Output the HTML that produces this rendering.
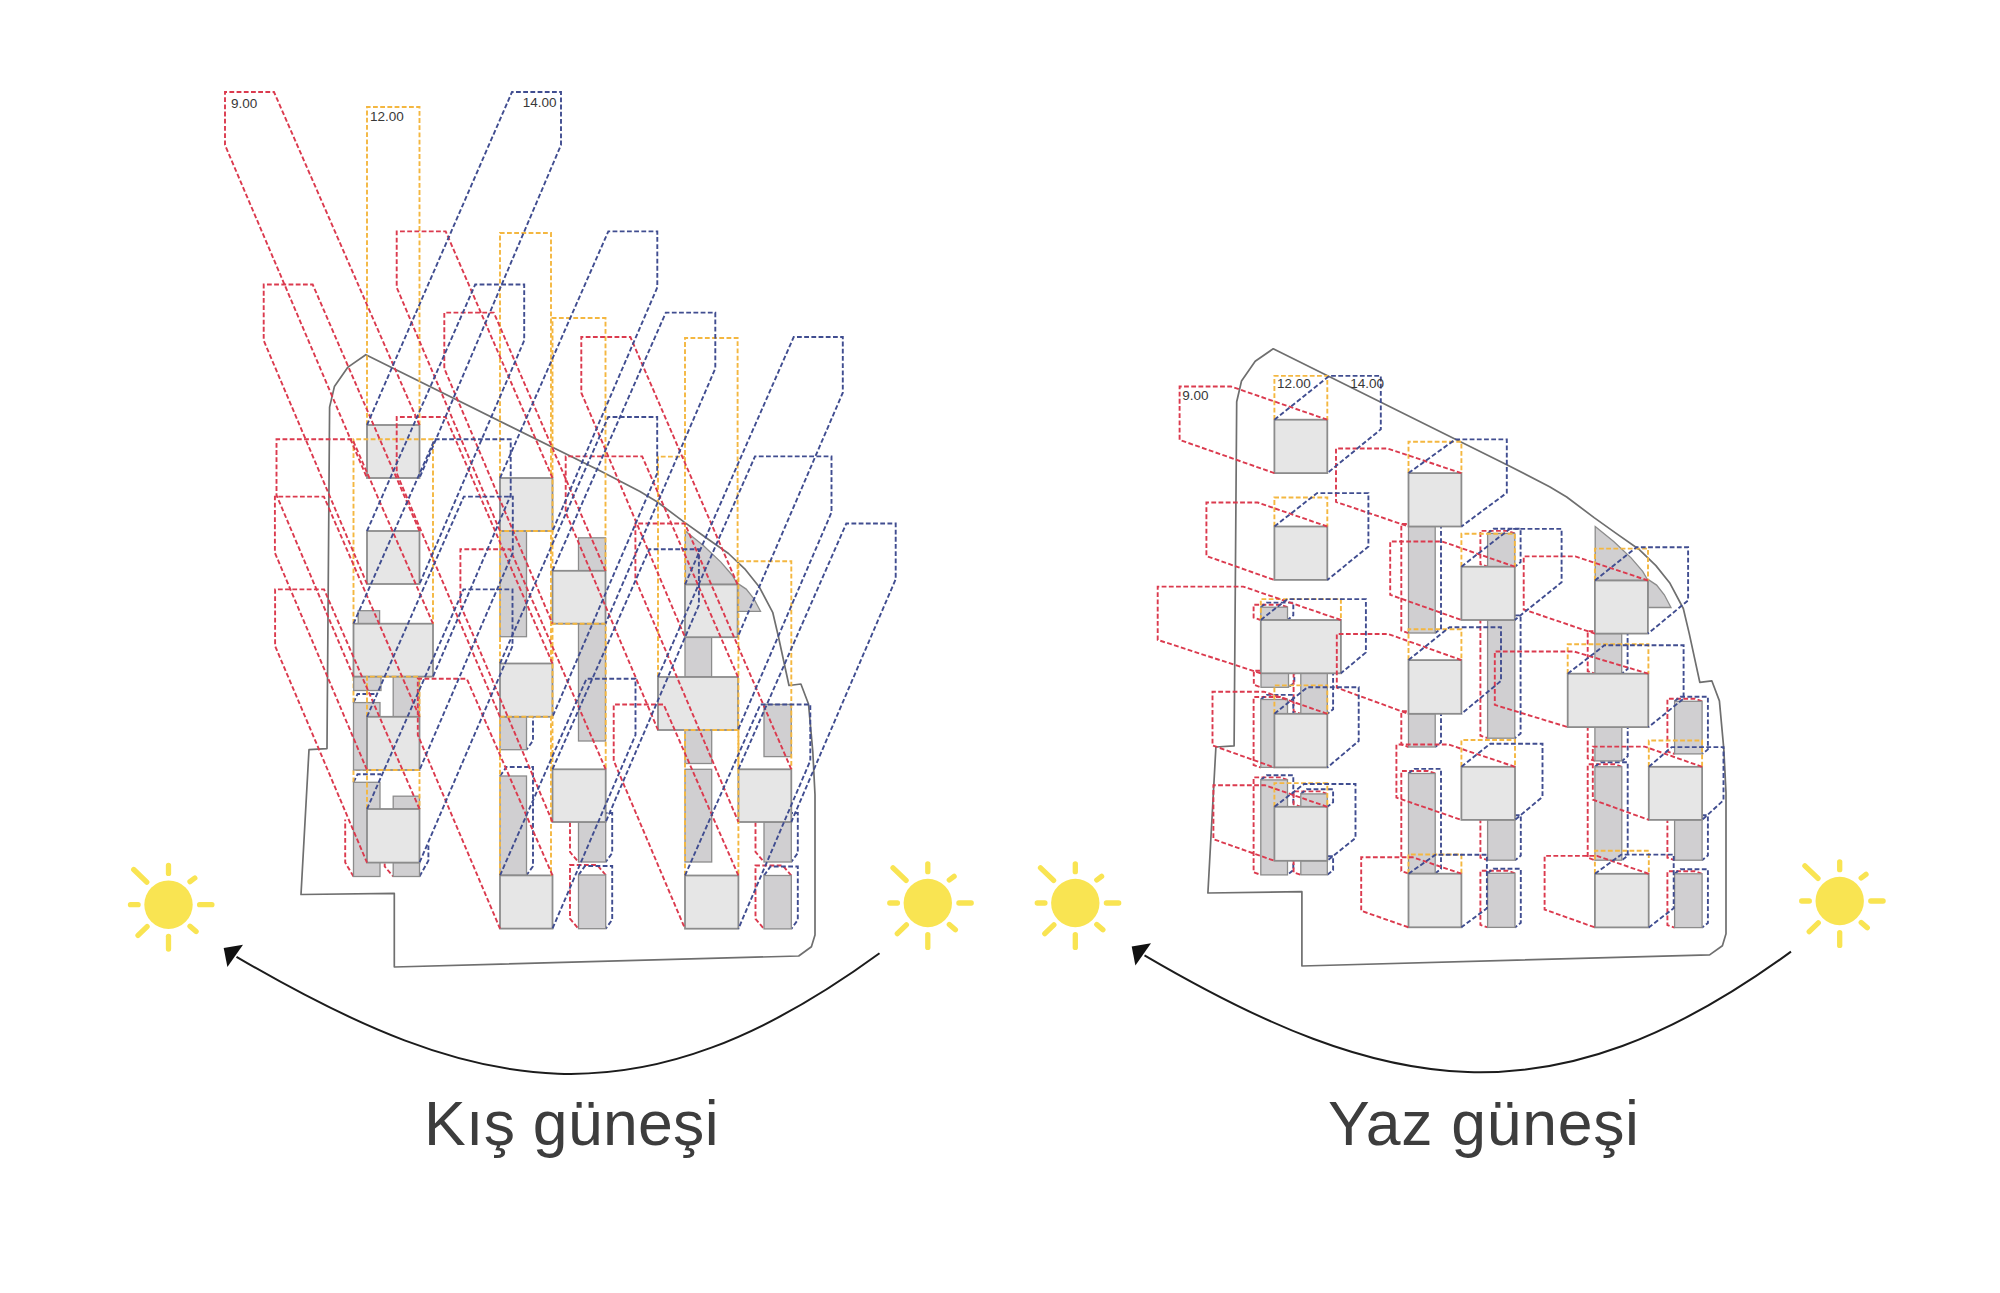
<!DOCTYPE html>
<html><head><meta charset="utf-8"><title>Kis gunesi / Yaz gunesi</title>
<style>html,body{margin:0;padding:0;background:#fff;}body{width:2000px;height:1293px;overflow:hidden;font-family:"Liberation Sans",sans-serif;}svg{display:block;}</style>
</head><body>
<svg width="2000" height="1293" viewBox="0 0 2000 1293">
<rect width="2000" height="1293" fill="#ffffff"/>
<polygon points="365.8,354.7 600,470.8 640,491.5 657,501.7 684.2,522.1 705,537 728.5,553.5 745.5,569.7 759.1,586.7 772.7,612.3 778.5,637 789,685.5 800.9,684 808.5,704 812.8,751.6 815,794.9 815,935 811.4,946.8 798.7,956 394.3,967 394.3,893.3 301,894.5 309,749.7 327,748.6 329.6,407.1 334.4,386.6 348,367.1" fill="none" stroke="#6f6f6f" stroke-width="1.7" stroke-linejoin="round"/>
<g fill="none" stroke-width="1.9" stroke-dasharray="4.8 2.4"><polyline points="419.5,862.6 411,852.6 384.7,852.6 384.7,866.5 393.2,876.5" stroke="#db3a4e"/><polyline points="500,716.8 506.5,707.8 533,707.8 533,740.7 526.5,749.7" stroke="#404d90"/><polyline points="500,776 506.5,767 533,767 533,866.2 526.5,875.2" stroke="#404d90"/><polyline points="605.7,822 597.2,812 570,812 570,852 578.5,862" stroke="#db3a4e"/><polyline points="578.5,822 585,813 612.2,813 612.2,853 605.7,862" stroke="#404d90"/><polyline points="605.7,875 597.2,865 570,865 570,918.7 578.5,928.7" stroke="#db3a4e"/><polyline points="578.5,875 585,866 612.2,866 612.2,919.7 605.7,928.7" stroke="#404d90"/><polyline points="791.3,822 782.8,812 755.5,812 755.5,852 764,862" stroke="#db3a4e"/><polyline points="764,822 770.5,813 797.8,813 797.8,853 791.3,862" stroke="#404d90"/><polyline points="791.3,875.5 782.8,865.5 755.5,865.5 755.5,918.9 764,928.9" stroke="#db3a4e"/><polyline points="764,875.5 770.5,866.5 797.8,866.5 797.8,919.9 791.3,928.9" stroke="#404d90"/><polyline points="353.5,702.6 357.5,694 377,694" stroke="#404d90"/><polyline points="353.5,782.3 357.5,774.3 381,774.3" stroke="#404d90"/><polyline points="353.5,876.5 345.2,862.5 345.2,819.5" stroke="#db3a4e"/><polyline points="419.5,876.5 428.4,860.6 428.4,845.4" stroke="#404d90"/><polyline points="353.5,676.6 433,676.6" stroke="#f4b740"/><polyline points="353.5,702.6 353.5,676.6" stroke="#f4b740"/><polyline points="353.5,782.3 353.5,770 367,770" stroke="#f4b740"/></g>
<g fill="#d0cfd1" stroke="#8c8c8c" stroke-width="1.3"><rect x="358.2" y="610.7" width="21.4" height="13"/><rect x="353.7" y="676.6" width="27.3" height="13.9"/><rect x="393.2" y="676.6" width="26.3" height="40.2"/><rect x="353.5" y="702.6" width="26.5" height="67.4"/><rect x="353.5" y="782.3" width="26.5" height="94.2"/><rect x="393.2" y="796.2" width="26.3" height="12.8"/><rect x="393.2" y="862.6" width="26.3" height="13.9"/><rect x="500" y="531" width="26.5" height="105.7"/><rect x="500" y="716.8" width="26.5" height="32.9"/><rect x="500" y="776" width="26.5" height="99.2"/><rect x="578.5" y="537.8" width="27" height="33"/><rect x="578.5" y="623.7" width="27" height="117.3"/><rect x="578.5" y="822" width="27.2" height="40"/><rect x="578.5" y="875" width="27.2" height="53.7"/><rect x="685" y="637.2" width="26.6" height="39.8"/><rect x="685" y="730" width="26.7" height="33.5"/><rect x="685" y="769.3" width="26.7" height="92.7"/><rect x="764" y="704.4" width="27.3" height="52.2"/><rect x="764" y="822" width="27.3" height="40"/><rect x="764" y="875.5" width="27.3" height="53.4"/><polygon points="685.3,531 703.6,545.8 720.9,562.1 732.4,575.5 737.6,584.5 685.3,584.5"/><polygon points="737.6,583.4 746.2,589.1 753.8,598.7 760.5,611.3 737.6,611.3"/></g>
<g fill="#e6e6e6" stroke="#8c8c8c" stroke-width="1.8"><rect x="367" y="425" width="52.5" height="53"/><rect x="367" y="531" width="52.5" height="53"/><rect x="353.5" y="623.7" width="79.5" height="52.9"/><rect x="367" y="716.8" width="52.5" height="53.2"/><rect x="367" y="809" width="52.5" height="53.6"/><rect x="500" y="478" width="52.5" height="53"/><rect x="500" y="663.5" width="52.5" height="53.3"/><rect x="500" y="875.4" width="52.5" height="53.2"/><rect x="552.5" y="570.8" width="53" height="52.9"/><rect x="552.5" y="769.3" width="53.2" height="52.7"/><rect x="685" y="584.5" width="52.6" height="52.7"/><rect x="658" y="677" width="80" height="53"/><rect x="685" y="875.5" width="53.4" height="53.2"/><rect x="738.4" y="769.3" width="52.9" height="52.7"/></g>
<g fill="none" stroke-width="1.9" stroke-dasharray="4.8 2.4" stroke-linejoin="miter"><polyline points="367,425 367,107 419.5,107 419.5,425" stroke="#f4b740"/><polyline points="353.5,623.7 353.5,439.3 433,439.3 433,623.7" stroke="#f4b740"/><polyline points="367,716.8 367,676.6 419.5,676.6 419.5,716.8" stroke="#f4b740"/><polyline points="367,809 367,770 419.5,770 419.5,809" stroke="#f4b740"/><polyline points="500,478 500,233 551,233 551,478" stroke="#f4b740"/><polyline points="500,663.5 500,531 551,531 551,663.5" stroke="#f4b740"/><polyline points="500,875.4 500,716.8 551,716.8 551,875.4" stroke="#f4b740"/><polyline points="552.5,570.8 552.5,318 605.5,318 605.5,570.8" stroke="#f4b740"/><polyline points="552.5,769.3 552.5,623.7 605.7,623.7 605.7,769.3" stroke="#f4b740"/><polyline points="685,584.5 685,338 737.6,338 737.6,584.5" stroke="#f4b740"/><polyline points="658,677 658,456.6 685,456.6" stroke="#f4b740"/><polyline points="685,875.5 685,730 738.4,730 738.4,875.5" stroke="#f4b740"/><polyline points="738.4,769.3 738.4,561.2 791.3,561.2 791.3,769.3" stroke="#f4b740"/><polyline points="419.5,425 274,92 225,92 225,145 367,478" stroke="#db3a4e"/><polyline points="419.5,531 312.7,284.5 263.7,284.5 263.7,340.5 367,584" stroke="#db3a4e"/><polyline points="433,623.7 352.5,439.3 276.5,439.3 276.5,495.2 353.5,676.6" stroke="#db3a4e"/><polyline points="419.5,716.8 323.9,496.6 274.9,496.6 274.9,552.8 367,770" stroke="#db3a4e"/><polyline points="419.5,809 324.1,589.4 275.1,589.4 275.1,646 367,862.6" stroke="#db3a4e"/><polyline points="552.5,478 445.7,231.4 396.7,231.4 396.7,287.4 500,531" stroke="#db3a4e"/><polyline points="552.5,663.5 445.7,417 396.7,417 396.7,473.3 500,716.8" stroke="#db3a4e"/><polyline points="552.5,875.4 466.8,678.8 417.8,678.8 417.8,735 500,928.6" stroke="#db3a4e"/><polyline points="605.5,570.8 493.8,312.6 444.3,312.6 444.3,368.5 552.5,623.7" stroke="#db3a4e"/><polyline points="605.7,769.3 510.1,549.3 460.4,549.3 460.4,605 552.5,822" stroke="#db3a4e"/><polyline points="737.6,584.5 630.4,337 581.3,337 581.3,392.7 685,637.2" stroke="#db3a4e"/><polyline points="738,677 642.2,456.4 565.7,456.4 565.7,512.4 658,730" stroke="#db3a4e"/><polyline points="738.4,875.5 663.6,704.5 613.7,704.5 613.7,760.7 685,928.7" stroke="#db3a4e"/><polyline points="791.3,769.3 684.8,523.5 635.4,523.5 635.4,579.2 738.4,822" stroke="#db3a4e"/><polyline points="367,425 512,92 561,92 561,145 419.5,478" stroke="#404d90"/><polyline points="367,531 475.2,284.5 524.2,284.5 524.2,340.5 419.5,584" stroke="#404d90"/><polyline points="353.5,623.7 434.7,439.3 510.7,439.3 510.7,495.2 433,676.6" stroke="#404d90"/><polyline points="367,716.8 463.8,496.6 512.8,496.6 512.8,552.8 419.5,770" stroke="#404d90"/><polyline points="367,809 463.5,589.4 512.5,589.4 512.5,646 419.5,862.6" stroke="#404d90"/><polyline points="500,478 608.3,231.4 657.3,231.4 657.3,287.4 552.5,531" stroke="#404d90"/><polyline points="500,663.5 608.2,417 657.2,417 657.2,473.3 552.5,716.8" stroke="#404d90"/><polyline points="500,875.4 586.5,678.8 635.5,678.8 635.5,735 552.5,928.6" stroke="#404d90"/><polyline points="552.5,570.8 665.8,312.6 715.3,312.6 715.3,368.5 605.5,623.7" stroke="#404d90"/><polyline points="552.5,769.3 649.2,549.3 698.9,549.3 698.9,605 605.7,822" stroke="#404d90"/><polyline points="685,584.5 793.7,337 842.8,337 842.8,392.7 737.6,637.2" stroke="#404d90"/><polyline points="658,677 755,456.4 831.5,456.4 831.5,512.4 738,730" stroke="#404d90"/><polyline points="685,875.5 760.4,704.5 810.3,704.5 810.3,760.7 738.4,928.7" stroke="#404d90"/><polyline points="738.4,769.3 846.3,523.5 895.7,523.5 895.7,579.2 791.3,822" stroke="#404d90"/></g>
<polygon points="1273.2,348.8 1509.3,465.9 1549.6,486.7 1566.7,497 1594.1,517.6 1615.1,532.6 1638.8,549.2 1655.9,565.6 1669.6,582.7 1683.3,608.5 1689.2,633.4 1699.8,682.3 1711.8,680.8 1719.4,700.9 1723.8,748.9 1726,792.6 1726,933.8 1722.4,945.7 1709.6,954.9 1301.9,966 1301.9,891.7 1207.9,893 1215.9,747 1234.1,745.9 1236.7,401.7 1241.5,381 1255.2,361.3" fill="none" stroke="#6f6f6f" stroke-width="1.7" stroke-linejoin="round"/>
<g fill="none" stroke-width="1.9" stroke-dasharray="4.8 2.4"><polyline points="1287.5,607.2 1280.3,604.7 1253.6,604.7 1253.6,617.5 1260.8,620" stroke="#db3a4e"/><polyline points="1260.8,607.2 1266.6,602.6 1293.3,602.6 1293.3,615.4 1287.5,620" stroke="#404d90"/><polyline points="1288.5,673.3 1281.3,670.8 1253.8,670.8 1253.8,684.8 1261,687.3" stroke="#db3a4e"/><polyline points="1261,673.3 1266.8,668.7 1294.3,668.7 1294.3,682.7 1288.5,687.3" stroke="#404d90"/><polyline points="1327.3,673.3 1320.1,670.8 1293.6,670.8 1293.6,711.3 1300.8,713.8" stroke="#db3a4e"/><polyline points="1300.8,673.3 1306.6,668.7 1333.1,668.7 1333.1,709.2 1327.3,713.8" stroke="#404d90"/><polyline points="1287.5,699.5 1280.3,697 1253.6,697 1253.6,765 1260.8,767.5" stroke="#db3a4e"/><polyline points="1260.8,699.5 1266.6,694.9 1293.3,694.9 1293.3,762.9 1287.5,767.5" stroke="#404d90"/><polyline points="1287.5,779.9 1280.3,777.4 1253.6,777.4 1253.6,872.3 1260.8,874.8" stroke="#db3a4e"/><polyline points="1260.8,779.9 1266.6,775.3 1293.3,775.3 1293.3,870.2 1287.5,874.8" stroke="#404d90"/><polyline points="1327.3,793.9 1320.1,791.4 1293.6,791.4 1293.6,804.3 1300.8,806.8" stroke="#db3a4e"/><polyline points="1300.8,793.9 1306.6,789.3 1333.1,789.3 1333.1,802.2 1327.3,806.8" stroke="#404d90"/><polyline points="1327.3,860.8 1320.1,858.3 1293.6,858.3 1293.6,872.3 1300.8,874.8" stroke="#db3a4e"/><polyline points="1300.8,860.8 1306.6,856.2 1333.1,856.2 1333.1,870.2 1327.3,874.8" stroke="#404d90"/><polyline points="1435.2,526.5 1428,524 1401.3,524 1401.3,630.6 1408.5,633.1" stroke="#db3a4e"/><polyline points="1408.5,526.5 1414.3,521.9 1441,521.9 1441,628.5 1435.2,633.1" stroke="#404d90"/><polyline points="1435.2,713.8 1428,711.3 1401.3,711.3 1401.3,744.5 1408.5,747" stroke="#db3a4e"/><polyline points="1408.5,713.8 1414.3,709.2 1441,709.2 1441,742.4 1435.2,747" stroke="#404d90"/><polyline points="1435.2,773.5 1428,771 1401.3,771 1401.3,871 1408.5,873.5" stroke="#db3a4e"/><polyline points="1408.5,773.5 1414.3,768.9 1441,768.9 1441,868.9 1435.2,873.5" stroke="#404d90"/><polyline points="1514.8,533.4 1507.6,530.9 1480.4,530.9 1480.4,564.2 1487.6,566.7" stroke="#db3a4e"/><polyline points="1487.6,533.4 1493.4,528.8 1520.6,528.8 1520.6,562.1 1514.8,566.7" stroke="#404d90"/><polyline points="1514.8,620 1507.6,617.5 1480.4,617.5 1480.4,735.7 1487.6,738.2" stroke="#db3a4e"/><polyline points="1487.6,620 1493.4,615.4 1520.6,615.4 1520.6,733.6 1514.8,738.2" stroke="#404d90"/><polyline points="1515,819.9 1507.8,817.4 1480.4,817.4 1480.4,857.7 1487.6,860.2" stroke="#db3a4e"/><polyline points="1487.6,819.9 1493.4,815.3 1520.8,815.3 1520.8,855.6 1515,860.2" stroke="#404d90"/><polyline points="1515,873.3 1507.8,870.8 1480.4,870.8 1480.4,924.9 1487.6,927.4" stroke="#db3a4e"/><polyline points="1487.6,873.3 1493.4,868.7 1520.8,868.7 1520.8,922.8 1515,927.4" stroke="#404d90"/><polyline points="1621.8,633.6 1614.6,631.1 1587.7,631.1 1587.7,671.2 1594.9,673.7" stroke="#db3a4e"/><polyline points="1594.9,633.6 1600.7,629 1627.6,629 1627.6,669.1 1621.8,673.7" stroke="#404d90"/><polyline points="1621.9,727.1 1614.7,724.6 1587.7,724.6 1587.7,758.4 1594.9,760.9" stroke="#db3a4e"/><polyline points="1594.9,727.1 1600.7,722.5 1627.7,722.5 1627.7,756.3 1621.9,760.9" stroke="#404d90"/><polyline points="1621.9,766.8 1614.7,764.3 1587.7,764.3 1587.7,857.7 1594.9,860.2" stroke="#db3a4e"/><polyline points="1594.9,766.8 1600.7,762.2 1627.7,762.2 1627.7,855.6 1621.9,860.2" stroke="#404d90"/><polyline points="1702.1,701.3 1694.9,698.8 1667.4,698.8 1667.4,751.5 1674.6,754" stroke="#db3a4e"/><polyline points="1674.6,701.3 1680.4,696.7 1707.9,696.7 1707.9,749.4 1702.1,754" stroke="#404d90"/><polyline points="1702.1,819.9 1694.9,817.4 1667.4,817.4 1667.4,857.7 1674.6,860.2" stroke="#db3a4e"/><polyline points="1674.6,819.9 1680.4,815.3 1707.9,815.3 1707.9,855.6 1702.1,860.2" stroke="#404d90"/><polyline points="1702.1,873.8 1694.9,871.3 1667.4,871.3 1667.4,925.1 1674.6,927.6" stroke="#db3a4e"/><polyline points="1674.6,873.8 1680.4,869.2 1707.9,869.2 1707.9,923 1702.1,927.6" stroke="#404d90"/></g>
<g fill="#d0cfd1" stroke="#8c8c8c" stroke-width="1.3"><rect x="1260.8" y="607.2" width="26.7" height="12.8"/><rect x="1261" y="673.3" width="27.5" height="14"/><rect x="1300.8" y="673.3" width="26.5" height="40.5"/><rect x="1260.8" y="699.5" width="26.7" height="67.9"/><rect x="1260.8" y="779.9" width="26.7" height="95"/><rect x="1300.8" y="793.9" width="26.5" height="12.9"/><rect x="1300.8" y="860.8" width="26.5" height="14"/><rect x="1408.5" y="526.5" width="26.7" height="106.5"/><rect x="1408.5" y="713.8" width="26.7" height="33.2"/><rect x="1408.5" y="773.5" width="26.7" height="100"/><rect x="1487.6" y="533.4" width="27.2" height="33.3"/><rect x="1487.6" y="620" width="27.2" height="118.2"/><rect x="1487.6" y="819.9" width="27.4" height="40.3"/><rect x="1487.6" y="873.3" width="27.4" height="54.1"/><rect x="1594.9" y="633.6" width="26.8" height="40.1"/><rect x="1594.9" y="727.1" width="26.9" height="33.8"/><rect x="1594.9" y="766.8" width="26.9" height="93.4"/><rect x="1674.6" y="701.3" width="27.5" height="52.6"/><rect x="1674.6" y="819.9" width="27.5" height="40.3"/><rect x="1674.6" y="873.8" width="27.5" height="53.8"/><polygon points="1595.2,526.5 1613.7,541.5 1631.1,557.9 1642.7,571.4 1648,580.5 1595.2,580.5"/><polygon points="1648,579.4 1656.6,585.1 1664.3,594.8 1671,607.5 1648,607.5"/></g>
<g fill="#e6e6e6" stroke="#8c8c8c" stroke-width="1.8"><rect x="1274.4" y="419.7" width="52.9" height="53.4"/><rect x="1274.4" y="526.5" width="52.9" height="53.4"/><rect x="1260.8" y="620" width="80.1" height="53.3"/><rect x="1274.4" y="713.8" width="52.9" height="53.6"/><rect x="1274.4" y="806.8" width="52.9" height="54"/><rect x="1408.5" y="473.1" width="52.9" height="53.4"/><rect x="1408.5" y="660.1" width="52.9" height="53.7"/><rect x="1408.5" y="873.7" width="52.9" height="53.6"/><rect x="1461.4" y="566.7" width="53.4" height="53.3"/><rect x="1461.4" y="766.8" width="53.6" height="53.1"/><rect x="1594.9" y="580.5" width="53" height="53.1"/><rect x="1567.7" y="673.7" width="80.6" height="53.4"/><rect x="1594.9" y="873.8" width="53.8" height="53.6"/><rect x="1648.8" y="766.8" width="53.3" height="53.1"/></g>
<g fill="none" stroke-width="1.9" stroke-dasharray="4.8 2.4" stroke-linejoin="miter"><polyline points="1274.4,419.7 1274.4,375.9 1327.3,375.9 1327.3,419.7" stroke="#f4b740"/><polyline points="1274.4,526.5 1274.4,497.5 1327.3,497.5 1327.3,526.5" stroke="#f4b740"/><polyline points="1260.8,620 1260.8,599.1 1340.9,599.1 1340.9,620" stroke="#f4b740"/><polyline points="1274.4,713.8 1274.4,685.4 1327.3,685.4 1327.3,713.8" stroke="#f4b740"/><polyline points="1274.4,806.8 1274.4,783.1 1327.3,783.1 1327.3,806.8" stroke="#f4b740"/><polyline points="1408.5,473.1 1408.5,441.7 1461.4,441.7 1461.4,473.1" stroke="#f4b740"/><polyline points="1408.5,660.1 1408.5,629.2 1461.4,629.2 1461.4,660.1" stroke="#f4b740"/><polyline points="1408.5,873.7 1408.5,854.5 1461.4,854.5 1461.4,873.7" stroke="#f4b740"/><polyline points="1461.4,566.7 1461.4,533.8 1514.8,533.8 1514.8,566.7" stroke="#f4b740"/><polyline points="1461.4,766.8 1461.4,740 1515,740 1515,766.8" stroke="#f4b740"/><polyline points="1594.9,580.5 1594.9,548.6 1648,548.6 1648,580.5" stroke="#f4b740"/><polyline points="1567.7,673.7 1567.7,644.2 1648.4,644.2 1648.4,673.7" stroke="#f4b740"/><polyline points="1594.9,873.8 1594.9,850.8 1648.8,850.8 1648.8,873.8" stroke="#f4b740"/><polyline points="1648.8,766.8 1648.8,740.5 1702.1,740.5 1702.1,766.8" stroke="#f4b740"/><polyline points="1327.3,419.7 1231,386.5 1179.6,386.5 1179.6,439.9 1274.4,473.1" stroke="#db3a4e"/><polyline points="1327.3,526.5 1257.8,502.5 1206.4,502.5 1206.4,556 1274.4,580" stroke="#db3a4e"/><polyline points="1340.9,620 1243.3,586.6 1157.7,586.6 1157.7,639.9 1260.8,673.3" stroke="#db3a4e"/><polyline points="1327.3,713.8 1263.9,691.7 1212.5,691.7 1212.5,745.4 1274.4,767.5" stroke="#db3a4e"/><polyline points="1327.3,806.8 1264.8,785.2 1213.4,785.2 1213.4,839.2 1274.4,860.8" stroke="#db3a4e"/><polyline points="1461.4,473.1 1387.4,448.5 1336,448.5 1336,501.9 1408.5,526.5" stroke="#db3a4e"/><polyline points="1461.4,660.1 1388.2,634 1336.8,634 1336.8,687.7 1408.5,713.8" stroke="#db3a4e"/><polyline points="1461.4,873.7 1412.6,857.2 1361.2,857.2 1361.2,910.8 1408.5,927.3" stroke="#db3a4e"/><polyline points="1514.8,566.7 1442.1,541.5 1390.2,541.5 1390.2,594.8 1461.4,620" stroke="#db3a4e"/><polyline points="1515,766.8 1448.5,744.5 1396.4,744.5 1396.4,797.6 1461.4,819.9" stroke="#db3a4e"/><polyline points="1648,580.5 1575.3,556.4 1523.7,556.4 1523.7,609.5 1594.9,633.6" stroke="#db3a4e"/><polyline points="1648.4,673.7 1574,651.5 1494.8,651.5 1494.8,704.9 1567.7,727.1" stroke="#db3a4e"/><polyline points="1648.8,873.8 1597,855.9 1544.6,855.9 1544.6,909.5 1594.9,927.4" stroke="#db3a4e"/><polyline points="1702.1,766.8 1644.6,746.6 1592.8,746.6 1592.8,799.7 1648.8,819.9" stroke="#db3a4e"/><polyline points="1274.4,419.7 1329.4,375.9 1380.8,375.9 1380.8,429.3 1327.3,473.1" stroke="#404d90"/><polyline points="1274.4,526.5 1317,493.1 1368.4,493.1 1368.4,546.6 1327.3,580" stroke="#404d90"/><polyline points="1260.8,620 1287.3,599.1 1365.9,599.1 1365.9,652.4 1340.9,673.3" stroke="#404d90"/><polyline points="1274.4,713.8 1307.3,687.3 1358.7,687.3 1358.7,741 1327.3,767.5" stroke="#404d90"/><polyline points="1274.4,806.8 1304.1,784 1355.5,784 1355.5,838 1327.3,860.8" stroke="#404d90"/><polyline points="1408.5,473.1 1455.4,439.4 1506.8,439.4 1506.8,492.8 1461.4,526.5" stroke="#404d90"/><polyline points="1408.5,660.1 1449.6,627.2 1501,627.2 1501,680.9 1461.4,713.8" stroke="#404d90"/><polyline points="1408.5,873.7 1435.5,854.7 1486.9,854.7 1486.9,908.3 1461.4,927.3" stroke="#404d90"/><polyline points="1461.4,566.7 1509.7,528.9 1561.6,528.9 1561.6,582.2 1514.8,620" stroke="#404d90"/><polyline points="1461.4,766.8 1490.4,743.7 1542.5,743.7 1542.5,796.8 1515,819.9" stroke="#404d90"/><polyline points="1594.9,580.5 1636.5,547.3 1688.1,547.3 1688.1,600.4 1648,633.6" stroke="#404d90"/><polyline points="1567.7,673.7 1604.4,645.3 1683.6,645.3 1683.6,698.7 1648.4,727.1" stroke="#404d90"/><polyline points="1594.9,873.8 1621.3,854.6 1673.7,854.6 1673.7,908.2 1648.8,927.4" stroke="#404d90"/><polyline points="1648.8,766.8 1671.7,747.1 1723.5,747.1 1723.5,800.2 1702.1,819.9" stroke="#404d90"/></g>
<text x="231" y="107.9" style="font-family:'Liberation Sans',sans-serif;font-size:13.5px;fill:#383838">9.00</text><text x="370" y="121.4" style="font-family:'Liberation Sans',sans-serif;font-size:13.5px;fill:#383838">12.00</text><text x="556.6" y="106.7" text-anchor="end" style="font-family:'Liberation Sans',sans-serif;font-size:13.5px;fill:#383838">14.00</text><text x="1182.2" y="400.2" style="font-family:'Liberation Sans',sans-serif;font-size:13.5px;fill:#383838">9.00</text><text x="1277" y="388.2" style="font-family:'Liberation Sans',sans-serif;font-size:13.5px;fill:#383838">12.00</text><text x="1384" y="388.2" text-anchor="end" style="font-family:'Liberation Sans',sans-serif;font-size:13.5px;fill:#383838">14.00</text>
<g fill="#f9e452" stroke="#f9e452" stroke-width="5.3" stroke-linecap="round"><circle cx="168.5" cy="904.7" r="24.2" stroke="none"/><line x1="168.5" y1="865.5" x2="168.5" y2="873.4"/><line x1="168.5" y1="936.3" x2="168.5" y2="949.1"/><line x1="130.5" y1="904.7" x2="138.1" y2="904.7"/><line x1="199.6" y1="904.7" x2="211.9" y2="904.7"/><line x1="133.7" y1="869.5" x2="146.8" y2="882.1"/><line x1="190" y1="881.7" x2="194.8" y2="878"/><line x1="138" y1="935.4" x2="147.1" y2="926.6"/><line x1="190" y1="926.2" x2="196.1" y2="931.5"/></g>
<g fill="#f9e452" stroke="#f9e452" stroke-width="5.3" stroke-linecap="round"><circle cx="927.8" cy="903" r="24.2" stroke="none"/><line x1="927.8" y1="863.8" x2="927.8" y2="871.7"/><line x1="927.8" y1="934.6" x2="927.8" y2="947.4"/><line x1="889.8" y1="903" x2="897.4" y2="903"/><line x1="958.9" y1="903" x2="971.2" y2="903"/><line x1="893" y1="867.8" x2="906.1" y2="880.4"/><line x1="949.3" y1="880" x2="954.1" y2="876.3"/><line x1="897.3" y1="933.7" x2="906.4" y2="924.9"/><line x1="949.3" y1="924.5" x2="955.4" y2="929.8"/></g>
<g fill="#f9e452" stroke="#f9e452" stroke-width="5.3" stroke-linecap="round"><circle cx="1075.3" cy="903" r="24.2" stroke="none"/><line x1="1075.3" y1="863.8" x2="1075.3" y2="871.7"/><line x1="1075.3" y1="934.6" x2="1075.3" y2="947.4"/><line x1="1037.3" y1="903" x2="1044.9" y2="903"/><line x1="1106.4" y1="903" x2="1118.7" y2="903"/><line x1="1040.5" y1="867.8" x2="1053.6" y2="880.4"/><line x1="1096.8" y1="880" x2="1101.6" y2="876.3"/><line x1="1044.8" y1="933.7" x2="1053.9" y2="924.9"/><line x1="1096.8" y1="924.5" x2="1102.9" y2="929.8"/></g>
<g fill="#f9e452" stroke="#f9e452" stroke-width="5.3" stroke-linecap="round"><circle cx="1839.7" cy="901" r="24.2" stroke="none"/><line x1="1839.7" y1="861.8" x2="1839.7" y2="869.7"/><line x1="1839.7" y1="932.6" x2="1839.7" y2="945.4"/><line x1="1801.7" y1="901" x2="1809.3" y2="901"/><line x1="1870.8" y1="901" x2="1883.1" y2="901"/><line x1="1804.9" y1="865.8" x2="1818" y2="878.4"/><line x1="1861.2" y1="878" x2="1866" y2="874.3"/><line x1="1809.2" y1="931.7" x2="1818.3" y2="922.9"/><line x1="1861.2" y1="922.5" x2="1867.3" y2="927.8"/></g>
<path d="M879.5,953.3 C639.1,1128.8 476.7,1097.6 236.5,956.8" fill="none" stroke="#1c1c1c" stroke-width="2"/><polygon points="223.7,948.1 243,944.7 227.4,967.1" fill="#111"/>
<path d="M1791,951.6 C1550.6,1127.1 1384.7,1096.1 1144.5,955.3" fill="none" stroke="#1c1c1c" stroke-width="2"/><polygon points="1131.7,946.6 1151,943.2 1135.4,965.6" fill="#111"/>
<text x="424" y="1145.3" style="font-family:'Liberation Sans',sans-serif;font-size:62.5px;fill:#3d3d3d;letter-spacing:0.3px">Kış güneşi</text><text x="1328.1" y="1144.6" style="font-family:'Liberation Sans',sans-serif;font-size:62.5px;fill:#3d3d3d;letter-spacing:0.7px">Yaz güneşi</text>
</svg>
</body></html>
